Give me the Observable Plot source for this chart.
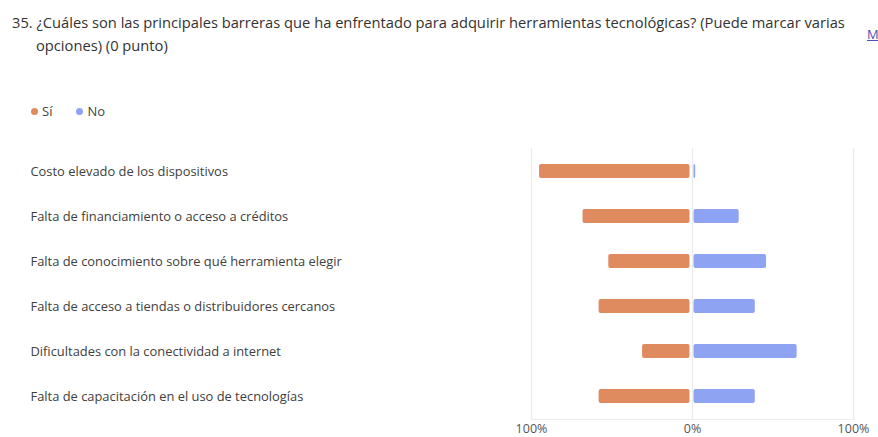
<!DOCTYPE html>
<html>
<head>
<meta charset="utf-8">
<script src="https://cdn.jsdelivr.net/npm/d3@7"></script>
<script src="https://cdn.jsdelivr.net/npm/@observablehq/plot@0.6"></script>
<style>
  html, body { margin: 0; padding: 0; background: #fff; }
  body { width: 878px; height: 437px; overflow: hidden; font-family: "Open Sans", sans-serif; position: relative; }
  #header { position: relative; height: 140px; }
  #title { position: absolute; left: 12px; top: 11px; width: 824px; font-size: 14.7px; line-height: 23px; color: #333; padding-left: 24px; text-indent: -24px; }
  #more { position: absolute; left: 867px; top: 25px; font-size: 13px; color: #4f52b2; text-decoration: underline; }
  #legend { position: absolute; left: 31px; top: 102px; font-size: 13px; color: #444; display: flex; gap: 24px; }
  .item { display: flex; align-items: center; gap: 4px; }
  .dot { width: 7px; height: 7px; border-radius: 50%; display: inline-block; }
</style>
</head>
<body>
<div id="header">
  <div id="title"></div>
  <div id="more">M</div>
  <div id="legend"></div>
</div>
<div id="chart"></div>
<script>
const titleText = "35. ¿Cuáles son las principales barreras que ha enfrentado para adquirir herramientas tecnológicas? (Puede marcar varias opciones) (0 punto)";
const seriesNames = ["Sí", "No"];
const seriesColors = ["#E08B5F", "#8FA3F3"];
const categories = [
  "Costo elevado de los dispositivos",
  "Falta de financiamiento o acceso a créditos",
  "Falta de conocimiento sobre qué herramienta elegir",
  "Falta de acceso a tiendas o distribuidores cercanos",
  "Dificultades con la conectividad a internet",
  "Falta de capacitación en el uso de tecnologías"
];
const siValues = [95, 68, 52, 58, 31, 58];
const noValues = [2, 29, 46, 39, 65, 39];
const xTicks = [-100, 0, 100];

document.getElementById("title").textContent = titleText;
const legend = document.getElementById("legend");
seriesNames.forEach((n, i) => {
  const it = document.createElement("div");
  it.className = "item";
  it.innerHTML = `<span class="dot" style="background:${seriesColors[i]}"></span><span>${n}</span>`;
  legend.appendChild(it);
});

const rows = categories.map((c, i) => ({category: c, si: siValues[i], no: noValues[i]}));

const chart = Plot.plot({
  width: 878,
  height: 297,
  marginLeft: 531,
  marginRight: 25,
  marginTop: 8,
  marginBottom: 18,
  style: {fontFamily: "Open Sans, sans-serif", fontSize: "12px", background: "#fff"},
  x: {domain: [-100, 100], axis: null},
  y: {domain: categories, axis: null, paddingInner: 0.69, paddingOuter: 0.345},
  marks: [
    Plot.ruleX(xTicks, {stroke: "#ebebeb", strokeWidth: 1.2}),
    Plot.frame({anchor: "bottom", stroke: "#ebebeb", strokeWidth: 1.2}),
    Plot.barX(rows, {y: "category", x1: 0, x2: d => -d.si, fill: seriesColors[0], insetRight: 2.5, rx: 2}),
    Plot.barX(rows, {y: "category", x1: 0, x2: d => d.no, fill: seriesColors[1], insetLeft: 1.5, rx: 2}),
    Plot.text(rows, {y: "category", text: "category", frameAnchor: "left", textAnchor: "start", dx: -501, fill: "#404040", fontSize: 12.9}),
    Plot.axisX(xTicks, {tickSize: 0, tickPadding: 5, tickFormat: d => Math.abs(d) + "%", fill: "#555", fontSize: 12.5, label: null})
  ]
});
document.getElementById("chart").appendChild(chart);
</script>
</body>
</html>
